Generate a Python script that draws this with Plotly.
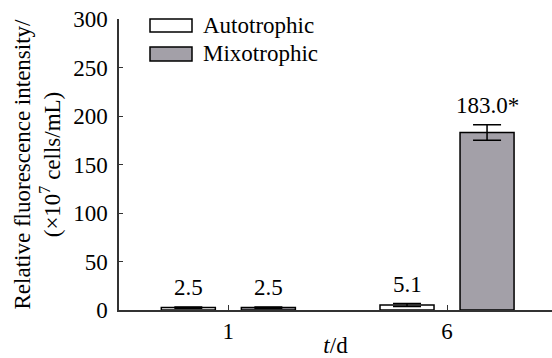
import plotly.graph_objects as go

days = ["1", "6"]
autotrophic = [2.5, 5.1]
autotrophic_err = [0.6, 1.5]
mixotrophic = [2.5, 183.0]
mixotrophic_err = [0.6, 8.0]
auto_labels = ["2.5", "5.1"]
mixo_labels = ["2.5", "183.0*"]
y_ticks = [0, 50, 100, 150, 200, 250, 300]

FONT = "Liberation Serif"
FS = 23

fig = go.Figure()
fig.add_trace(go.Bar(
    x=days, y=autotrophic, name="Autotrophic",
    marker=dict(color="white", line=dict(color="black", width=1.5)),
    error_y=dict(type="data", array=autotrophic_err, color="black", thickness=1.5, width=14),
))
fig.add_trace(go.Bar(
    x=days, y=mixotrophic, name="Mixotrophic",
    marker=dict(color="#a3a0a8", line=dict(color="black", width=1.5)),
    error_y=dict(type="data", array=mixotrophic_err, color="black", thickness=1.5, width=14),
))

annotations = []
for vals, errs, labs, shift in [(autotrophic, autotrophic_err, auto_labels, -40),
                                (mixotrophic, mixotrophic_err, mixo_labels, 40)]:
    for i, (v, e, t) in enumerate(zip(vals, errs, labs)):
        annotations.append(dict(x=i, y=v + e, xref="x", yref="y", text=t, showarrow=False,
                                xshift=shift, yshift=5, yanchor="bottom",
                                font=dict(family=FONT, size=FS, color="black")))

# custom legend
legend_items = [("Autotrophic", "white", 1.0, 0.955), ("Mixotrophic", "#a3a0a8", 0.904, 0.856)]
shapes = []
for name, col, y1, y0 in legend_items:
    shapes.append(dict(type="rect", xref="paper", yref="paper", x0=0.0716, x1=0.1686, y0=y0, y1=y1,
                       fillcolor=col, line=dict(color="black", width=1.5)))
    annotations.append(dict(x=0.19, y=(y0 + y1) / 2, xref="paper", yref="paper", text=name,
                            showarrow=False, xanchor="left", yanchor="middle",
                            font=dict(family=FONT, size=FS, color="black")))

fig.update_layout(
    width=552, height=358,
    margin=dict(l=119, r=0, t=19, b=48),
    paper_bgcolor="white", plot_bgcolor="white",
    barmode="group", bargap=0.268, bargroupgap=0.325,
    showlegend=False,
    font=dict(family=FONT, size=FS, color="black"),
    annotations=annotations, shapes=shapes,
    xaxis=dict(
        type="category", range=[-0.5, 1.48], automargin=False,
        showline=True, linecolor="#333333", linewidth=1.5,
        ticks="inside", ticklen=5, tickcolor="#333333",
        showgrid=False, zeroline=False,
        title=dict(text="<i>t</i>/d", standoff=2, font=dict(family=FONT, size=FS)),
        tickfont=dict(family=FONT, size=FS),
    ),
    yaxis=dict(
        range=[0, 300], tickvals=y_ticks, automargin=False,
        showline=True, linecolor="#333333", linewidth=1.5,
        ticks="inside", ticklen=4, tickcolor="#333333", ticklabelstandoff=5,
        showgrid=False, zeroline=False,
        title=dict(text="Relative fluorescence intensity/<br>(×10<sup>7</sup> cells/mL)",
                   standoff=6, font=dict(family=FONT, size=FS)),
        tickfont=dict(family=FONT, size=FS),
    ),
)

fig.write_html("out.html", config={"displayModeBar": False},
               post_script="document.body.style.margin='0';document.body.style.padding='0';")
